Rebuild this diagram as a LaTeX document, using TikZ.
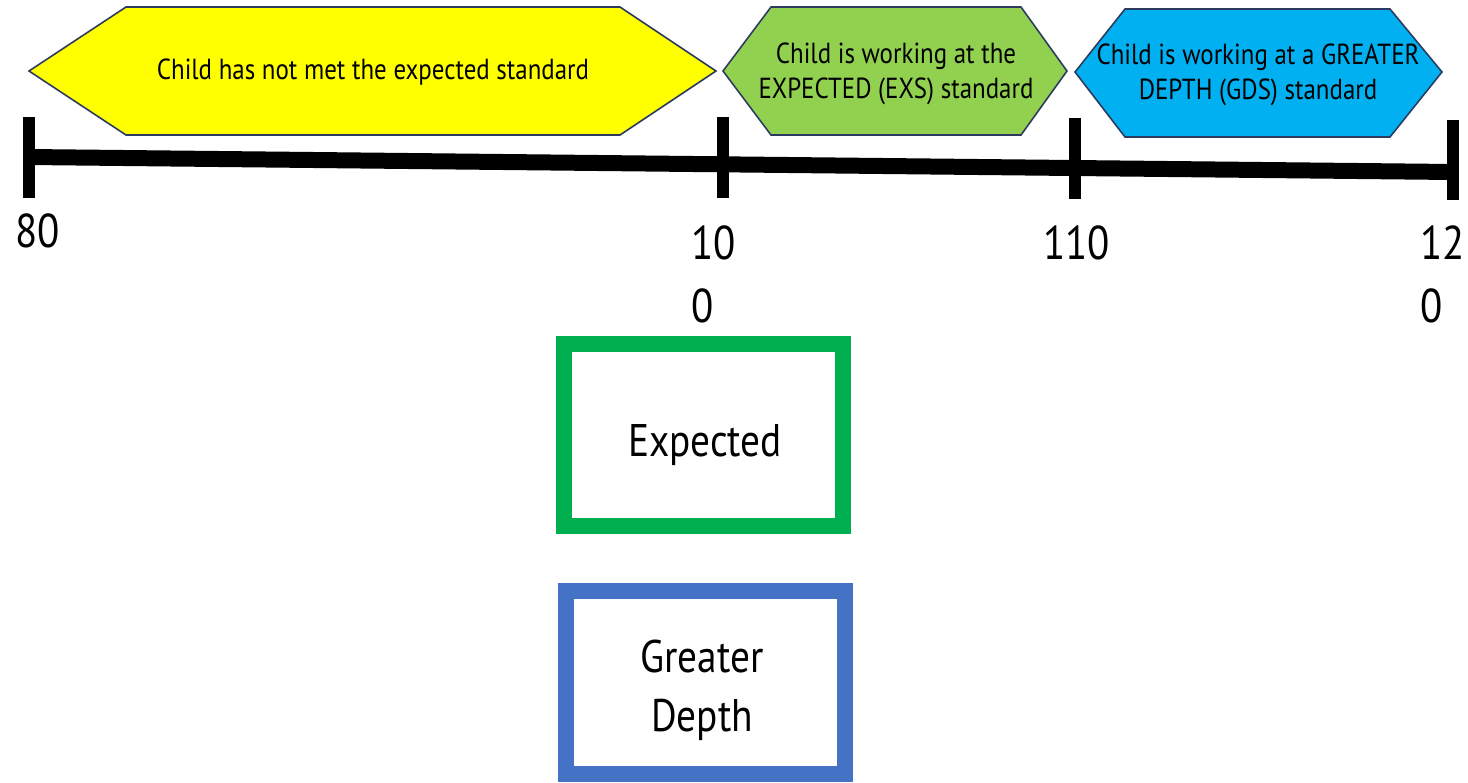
\documentclass[tikz,border=0pt]{standalone}
\usepackage{fontspec}
\setmainfont{PT Sans}[FakeStretch=0.86]
\usepackage{xcolor}
\usepackage{tikz}
\definecolor{notmet}{HTML}{FFFF00}
\definecolor{exsgreen}{HTML}{92D050}
\definecolor{gdsblue}{HTML}{00B0F0}
\definecolor{hexline}{HTML}{2B3A5E}
\definecolor{boxgreen}{HTML}{00B050}
\definecolor{boxblue}{HTML}{4472C4}
\usetikzlibrary{positioning,calc}

\begin{document}
\begin{tikzpicture}[x=0.02cm,y=-0.02cm,
    band/.style={draw=hexline,line width=0.9pt,line join=miter},
    bandtext/.style={font=\fontsize{16.5}{20}\selectfont,align=center,inner sep=0pt},
    tickmark/.style={line width=0.24cm},
    num/.style={font=\fontsize{27}{36}\selectfont,align=left,inner sep=0pt,anchor=north west},
    keyframe/.style={line width=0.32cm},
    keytext/.style={font=\fontsize{26}{33.5}\selectfont,align=center,inner sep=0pt}]
    \useasboundingbox (0,0) rectangle (1468,782);

    % bands
    \filldraw[band,fill=notmet] (29,71) -- (126,7) -- (620,7) -- (716,71) -- (620,135) -- (126,135) -- cycle;
    \node[bandtext] (notmet) at (373,72) {Child has not met the expected standard};
    \filldraw[band,fill=exsgreen] (723,71) -- (771,7) -- (1021,7) -- (1067,71) -- (1021,135) -- (771,135) -- cycle;
    \node[bandtext] (exs) at (896,74) {Child is working at the\\EXPECTED (EXS) standard};
    \filldraw[band,fill=gdsblue] (1075,72) -- (1125,9) -- (1390,9) -- (1442,72) -- (1390,137) -- (1125,137) -- cycle;
    \node[bandtext] (gds) at (1258,75) {Child is working at a GREATER\\DEPTH (GDS) standard};

    % number line
    \coordinate (start) at (29,157);
    \coordinate (end) at (1453,172);
    \draw[line width=0.32cm] (start) -- (end);
    \draw[tickmark] (29,117) -- (29,198);
    \draw[tickmark] (723,117) -- (723,198);
    \draw[tickmark] (1075,118) -- (1075,199);
    \draw[tickmark] (1453,120) -- (1453,200);

    % labels
    \node[num] (n80) at (15,213) {80};
    \node[num] (n100) at (691,225) {10\\0};
    \node[num] (n110) at (1043,225) {110};
    \node[num] (n120) at (1420,225) {12\\0};

    % key
    \draw[keyframe,boxgreen] (563.7,344) rectangle (843.3,526);
    \node[keytext] (expected) at (705,445) {Expected};
    \draw[keyframe,boxblue] (566,591) rectangle (845,774);
    \node[keytext] (greater) at (702,690) {Greater\\Depth};
\end{tikzpicture}
\end{document}
